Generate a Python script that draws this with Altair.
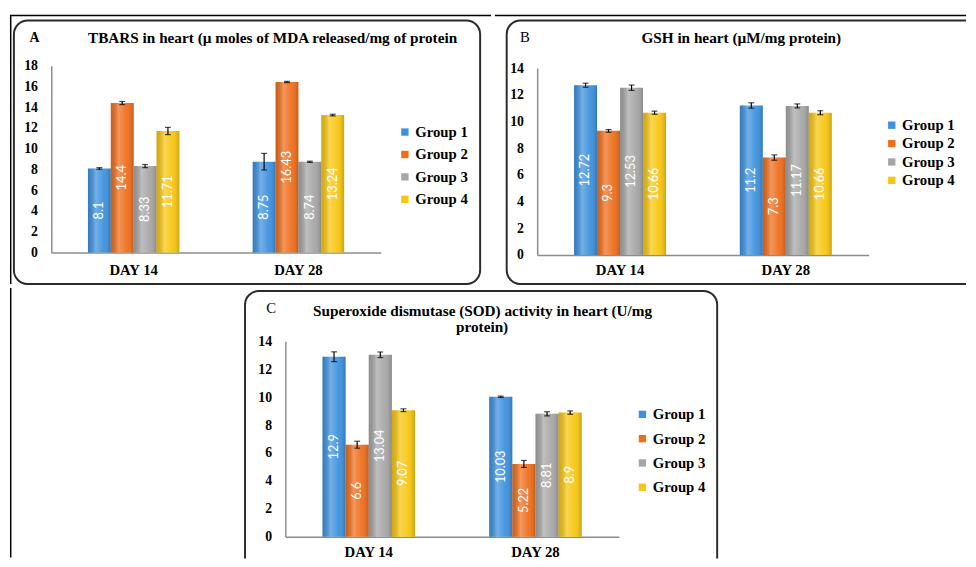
import altair as alt
import pandas as pd

days = ["DAY 14", "DAY 28"]
groups = ["Group 1", "Group 2", "Group 3", "Group 4"]
colors = ["#3D91DE", "#EF6E1C", "#A6A6A6", "#F8C610"]

tbars_day14 = [8.1, 14.4, 8.33, 11.71]
tbars_day28 = [8.75, 16.43, 8.74, 13.24]
tbars_err_day14 = [0.08, 0.15, 0.15, 0.35]
tbars_err_day28 = [0.8, 0.06, 0.06, 0.08]

gsh_day14 = [12.72, 9.3, 12.53, 10.66]
gsh_day28 = [11.2, 7.3, 11.17, 10.66]
gsh_err_day14 = [0.15, 0.1, 0.2, 0.12]
gsh_err_day28 = [0.2, 0.2, 0.15, 0.15]

sod_day14 = [12.9, 6.6, 13.04, 9.07]
sod_day28 = [10.03, 5.22, 8.81, 8.9]
sod_err_day14 = [0.35, 0.25, 0.2, 0.1]
sod_err_day28 = [0.05, 0.25, 0.15, 0.12]

ticks_a = [0, 2, 4, 6, 8, 10, 12, 14, 16, 18]
ticks_bc = [0, 2, 4, 6, 8, 10, 12, 14]

SERIF = "Times New Roman, Liberation Serif, DejaVu Serif, serif"
SANS = "Lato, Open Sans, sans-serif"

GRAD = alt.LinearGradient(
    gradient="linear", x1=0, x2=1, y1=0, y2=0,
    stops=[
        alt.GradientStop(offset=0, color="rgba(0,0,0,0.14)"),
        alt.GradientStop(offset=0.35, color="rgba(255,255,255,0.28)"),
        alt.GradientStop(offset=0.7, color="rgba(255,255,255,0.05)"),
        alt.GradientStop(offset=1, color="rgba(0,0,0,0.18)"),
    ],
)


def make_df(v14, v28, e14, e28):
    rows = []
    for d, vals, errs in ((days[0], v14, e14), (days[1], v28, e28)):
        for g, v, e in zip(groups, vals, errs):
            rows.append({"day": d, "group": g, "value": v, "lo": v - e,
                         "hi": v + e, "mid": v / 2, "label": str(v)})
    return pd.DataFrame(rows)


def panel(df, W, H, xr, yr, ydom, yticks, xoff, yoff, xlabpad, box, letter, letter_pos,
          letter_bold, titles, legend_pos, row_pad, frame_top, frame_left, day_text_y=None):
    deco = alt.Chart(alt.Data(values=[{"k": 1}]))
    layers = []
    if frame_top:
        layers.append(deco.mark_rule(color="black", strokeWidth=1.3).encode(
            x=alt.value(0), x2=alt.value(W), y=alt.value(2)))
    if frame_left:
        layers.append(deco.mark_rule(color="black", strokeWidth=1.5).encode(
            x=alt.value(0.75), y=alt.value(2 if frame_top else 0), y2=alt.value(H - 1)))
    layers.append(deco.mark_rect(fill="white", fillOpacity=0, stroke="#2b2b2b",
                                 strokeWidth=2, cornerRadius=14, clip=True).encode(
        x=alt.value(box[0]), x2=alt.value(box[1]), y=alt.value(box[2]), y2=alt.value(box[3])))

    xaxis = alt.Axis(title=None, labelAngle=0, ticks=False, tickSize=0, grid=False,
                     labels=day_text_y is None,
                     labelFont=SERIF, labelFontWeight="bold", labelFontSize=15,
                     labelColor="black", labelPadding=xlabpad, domainColor="#8c8c8c",
                     domainWidth=1.5, offset=xoff)
    yaxis = alt.Axis(title=None, values=yticks, ticks=False, tickSize=0, grid=False,
                     labelFont=SERIF, labelFontWeight="bold", labelFontSize=14,
                     labelColor="black", labelPadding=14, domainColor="#8c8c8c",
                     domainWidth=1.5, offset=yoff)
    xs = alt.Scale(range=xr, paddingInner=0.445, paddingOuter=0.2225)
    ys = alt.Scale(domain=ydom, range=yr, nice=False)
    ex = alt.X("day:N", sort=days, scale=xs, axis=xaxis)
    exo = alt.XOffset("group:N", sort=groups, scale=alt.Scale(paddingInner=0, paddingOuter=0))

    def ey(f):
        return alt.Y(f + ":Q", scale=ys, axis=yaxis)

    base = alt.Chart(df)
    bars = base.mark_bar().encode(
        x=ex, xOffset=exo, y=ey("value"),
        color=alt.Color("group:N", sort=groups,
                        scale=alt.Scale(domain=groups, range=colors),
                        legend=alt.Legend(orient="none", legendX=legend_pos[0],
                                          legendY=legend_pos[1], title=None,
                                          symbolType="square", symbolSize=56,
                                          symbolStrokeWidth=0, labelFont=SERIF,
                                          labelFontSize=15, labelFontWeight="bold",
                                          labelColor="black", rowPadding=row_pad,
                                          padding=0, labelOffset=3)))
    shade = base.mark_bar(color=GRAD).encode(x=ex, xOffset=exo, y=ey("value"))
    vals = base.mark_text(angle=270, color="white", font=SANS, fontSize=13,
                          align="center", baseline="middle").encode(
        x=ex, xOffset=exo, y=ey("mid"), text="label:N")
    err = base.mark_rule(color="black", strokeWidth=1.2).encode(
        x=ex, xOffset=exo, y=ey("lo"), y2="hi:Q")
    cap_lo = base.mark_tick(color="black", thickness=1.2, size=6).encode(
        x=ex, xOffset=exo, y=ey("lo"))
    cap_hi = base.mark_tick(color="black", thickness=1.2, size=6).encode(
        x=ex, xOffset=exo, y=ey("hi"))
    layers += [bars, shade, vals, err, cap_lo, cap_hi]

    if day_text_y is not None:
        layers.append(alt.Chart(pd.DataFrame({"day": days})).mark_text(
            font=SERIF, fontSize=15, fontWeight="bold", color="black", align="center",
            baseline="alphabetic", clip=True).encode(
            x=ex, y=alt.value(day_text_y), text="day:N"))

    layers.append(deco.mark_text(text=letter, font=SERIF, fontSize=15 if not letter_bold else 14,
                                 fontWeight="bold" if letter_bold else "normal",
                                 align="center", baseline="alphabetic", color="black").encode(
        x=alt.value(letter_pos[0]), y=alt.value(letter_pos[1])))
    for t, tx, ty in titles:
        layers.append(deco.mark_text(text=t, font=SERIF, fontSize=15.5, fontWeight="bold",
                                     align="center", baseline="alphabetic", color="black").encode(
            x=alt.value(tx), y=alt.value(ty)))
    return alt.layer(*layers).properties(width=W, height=H)


A = panel(make_df(tbars_day14, tbars_day28, tbars_err_day14, tbars_err_day28),
          W=489, H=276, xr=[42, 377], yr=[243, 53], ydom=[0, 18], yticks=ticks_a,
          xoff=-33, yoff=-42, xlabpad=10, box=(4, 478, 7, 275), letter="A",
          letter_pos=(25, 29), letter_bold=True,
          titles=[("TBARS in heart (\u00b5 moles of MDA released/mg of protein", 267, 29.5)],
          legend_pos=(394, 113), row_pad=6.8, frame_top=True, frame_left=True)

B = panel(make_df(gsh_day14, gsh_day28, gsh_err_day14, gsh_err_day28),
          W=479, H=276, xr=[43, 380], yr=[245.5, 55.5], ydom=[0, 14], yticks=ticks_bc,
          xoff=-30.5, yoff=-43, xlabpad=8, box=(12, 520, 7, 275), letter="B",
          letter_pos=(30.5, 28.7), letter_bold=False,
          titles=[("GSH in heart (\u00b5M/mg protein)", 250.5, 30.3)],
          legend_pos=(396, 106), row_pad=2.7, frame_top=True, frame_left=False)

C = panel(make_df(sod_day14, sod_day28, sod_err_day14, sod_err_day28),
          W=968, H=275, xr=[280, 619], yr=[253, 54.3], ydom=[0, 14], yticks=ticks_bc,
          xoff=-22, yoff=-280, xlabpad=8, box=(239, 719, 3, 320), letter="C",
          letter_pos=(265.5, 25), letter_bold=False,
          titles=[("Superoxide dismutase (SOD) activity in heart (U/mg", 480.5, 28.3),
                  ("protein)", 480, 44.3)],
          legend_pos=(635.5, 121), row_pad=8.7, frame_top=False, frame_left=True,
          day_text_y=273.5)

res = dict(color="independent", x="independent", y="independent", xOffset="independent")
top = alt.hconcat(A, B, spacing=0).resolve_scale(**res).resolve_legend(color="independent")
chart = alt.vconcat(top, C, spacing=0).resolve_scale(**res).resolve_legend(
    color="independent").properties(
    padding={"left": 0, "top": 0, "right": 0, "bottom": 0},
    background="white").configure_view(stroke="transparent")

chart.save("out.html", embed_options={"renderer": "svg", "actions": False})
